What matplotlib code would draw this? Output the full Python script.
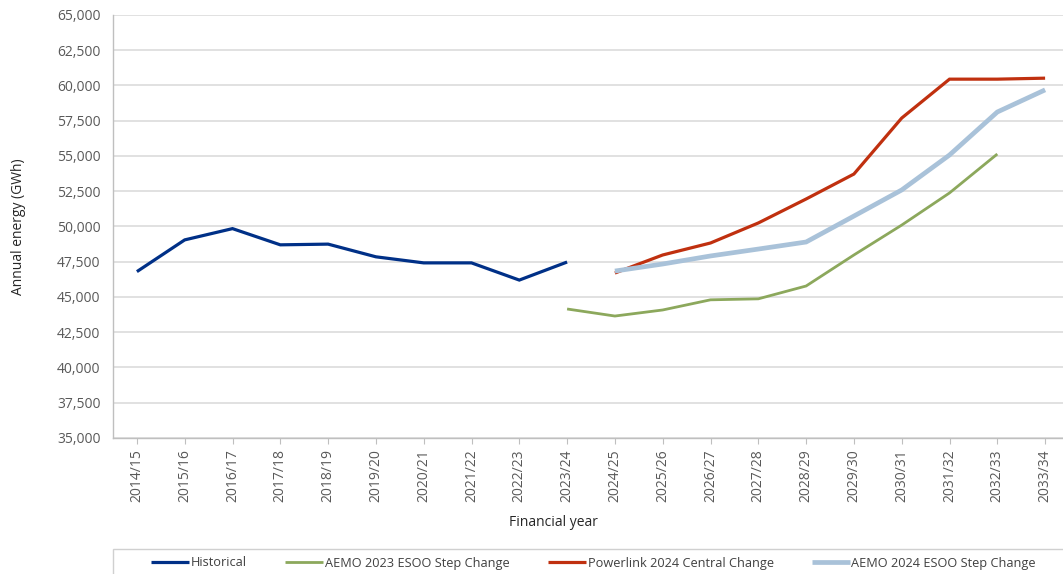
import matplotlib.pyplot as plt
from matplotlib.patches import Rectangle
from matplotlib.ticker import FuncFormatter
import numpy as np

plt.rcParams['font.family'] = ['Open Sans', 'DejaVu Sans']

years = ['2014/15', '2015/16', '2016/17', '2017/18', '2018/19', '2019/20',
         '2020/21', '2021/22', '2022/23', '2023/24', '2024/25', '2025/26',
         '2026/27', '2027/28', '2028/29', '2029/30', '2030/31', '2031/32',
         '2032/33', '2033/34']

# annual energy, GWh (None = no value for that year)
historical = [46800, 49050, 49850, 48700, 48750, 47850, 47420, 47420, 46200, 47480,
              None, None, None, None, None, None, None, None, None, None]
aemo_2023 = [None, None, None, None, None, None, None, None, None, 44150,
             43650, 44080, 44800, 44870, 45780, 47980, 50100, 52380, 55140, None]
powerlink_2024 = [None, None, None, None, None, None, None, None, None, None,
                  46700, 47980, 48830, 50250, 51950, 53720, 57690, 60450, 60450, 60520]
aemo_2024 = [None, None, None, None, None, None, None, None, None, None,
             46840, 47340, 47910, 48400, 48900, 50740, 52590, 55070, 58120, 59690]

series = [
    ('Historical', historical, '#003087', 2.3),
    ('AEMO 2023 ESOO Step Change', aemo_2023, '#8CA85C', 2.0),
    ('Powerlink 2024 Central Change', powerlink_2024, '#C0300F', 2.3),
    ('AEMO 2024 ESOO Step Change', aemo_2024, '#A9C2D9', 3.4),
]

W, H = 1063, 574
fig = plt.figure(figsize=(W / 100, H / 100), dpi=100)
ax = fig.add_axes([113 / W, 1 - 438 / H, (1069 - 113) / W, (438 - 15) / H])

x = np.arange(len(years))
for name, vals, color, lw in series:
    y = np.array([np.nan if v is None else v for v in vals], dtype=float)
    ax.plot(x, y, color=color, lw=lw, label=name, solid_capstyle='butt',
            solid_joinstyle='miter')

ax.set_xlim(-0.5, len(years) - 0.5)
ax.set_ylim(35000, 65000)
ax.set_yticks(np.arange(35000, 65001, 2500))
ax.yaxis.set_major_formatter(FuncFormatter(lambda v, p: f'{int(v):,}'))
ax.set_xticks(x)
ax.set_xticklabels(years, rotation=90)

ax.grid(axis='y', color='#D9D9D9', lw=1.1)
ax.set_axisbelow(True)
for s in ['top', 'right']:
    ax.spines[s].set_visible(False)
for s in ['left', 'bottom']:
    ax.spines[s].set_color('#BFBFBF')
    ax.spines[s].set_linewidth(1.0)
ax.tick_params(axis='y', length=0, pad=9, labelsize=10, labelcolor='#595959')
ax.tick_params(axis='x', length=4, width=0.8, color='#BFBFBF', pad=4,
               labelsize=10, labelcolor='#595959')

ax.set_ylabel('Annual energy (GWh)', fontsize=10, color='#262626')
ax.yaxis.set_label_coords(-0.0906, 0.5)
fig.text(553 / W, 1 - 523 / H, 'Financial year', ha='center', va='center',
         fontsize=10, color='#262626')

# legend box along the bottom
fig.patches.append(Rectangle((113 / W, -0.05), 1.0, 1 - 549 / H + 0.05,
                             transform=fig.transFigure, fill=False,
                             edgecolor='#D0D0D0', lw=1.0))
leg = fig.legend(loc='center left', bbox_to_anchor=(145 / W, 1 - 563 / H),
                 ncol=4, frameon=False, fontsize=9.2, handlelength=2.95,
                 handletextpad=0.15, columnspacing=3.0, borderpad=0)
for t in leg.get_texts():
    t.set_color('#404040')

fig.savefig('out.png', dpi=100)
